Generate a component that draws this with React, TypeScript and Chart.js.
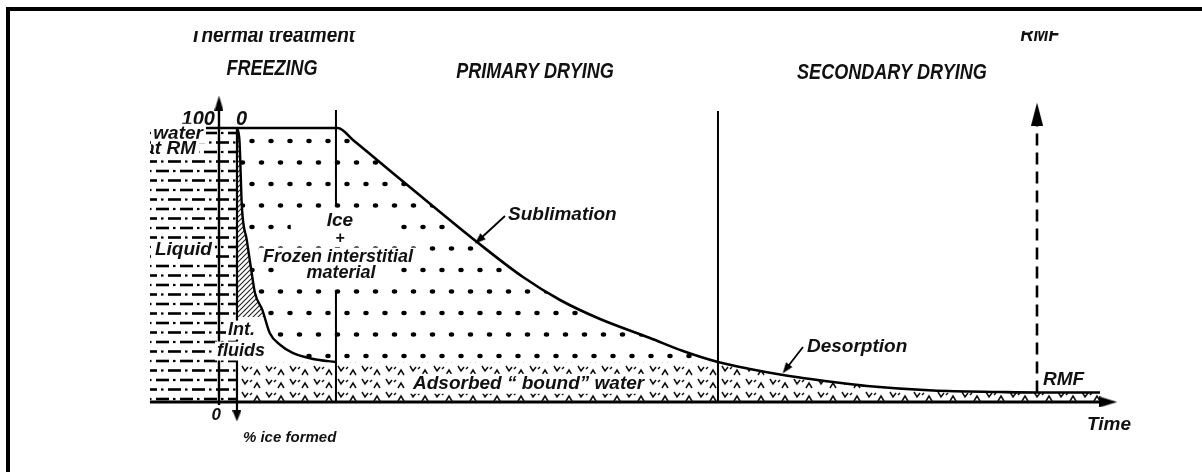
import React, { useEffect, useRef } from "react";
import { Chart, registerables } from "chart.js";

Chart.register(...registerables);

const W = 1202;
const H = 472;

// Scale ranges: time in arbitrary units (RMF reached at t = 100), water content in %
const X_MIN = -26.77;
const X_MAX = 120.17;
const Y_MIN = -25.55;
const Y_MAX = 146.72;

// Water content of the product (plateau, sublimation, then desorption)
const TIME_WATER = [-2.7, 14.55, 16.38, 22.13, 27.02, 31.54, 37.16, 41.69, 46.58, 52.69, 56.72, 61.0, 64.91, 68.95, 75.06, 79.22, 87.29, 95.48, 100, 107.7];
const WATER = [100, 100, 95.62, 81.39, 69.34, 58.39, 45.62, 37.23, 30.29, 23.36, 18.61, 14.6, 12.04, 9.85, 7.3, 5.84, 4.2, 3.65, 3.47, 3.47];

// Boundary between liquid / interstitial fluids and ice during freezing
const TIME_LIQUID = [2.2, 2.5, 2.8, 3.4, 4.0, 4.4, 5.3, 6.2, 7.5, 9.0, 11.5, 14.3];
const LIQUID = [100, 95.6, 71.2, 59.1, 47.1, 39.8, 33.6, 25.2, 20.8, 17.9, 15.7, 14.6];

// Levels
const BOUND_LEVEL = 14.6; // adsorbed "bound" water
const HATCH_LEVEL = 31; // lower end of hatched interstitial fluid band
const RM_TIME = [-8.44, 2.2]; // water at raw material (liquid) band
const RM_WATER = [99, 99];

// Axes and phase markers
const X_AXIS_T = [-8.44, 108.7];
const Y_AXIS_V = [-1.1, 109.1];
const ICE_AXIS_T = 2.2;
const ICE_AXIS_V = [100, -5.1];
const PHASE1_T = 14.3;
const PHASE1_V = [106.57, 71.17, null, 40.15, 0];
const PHASE2_T = 61.0;
const PHASE2_V = [106.2, 0];
const RMF_T = 100;
const RMF_V = [3.5, 105.1];
const SUBL_PTR_T = [34.96, 31.78];
const SUBL_PTR_V = [67.88, 59.12];
const DESO_PTR_T = [71.39, 69.31];
const DESO_PTR_V = [20.07, 12.04];

type Lbl = { t: string; x: number; y: number; s: number; a: "left" | "right" | "center"; sq?: number; bg?: boolean; pad?: number; clipTop?: boolean; clipLeft?: boolean };

const LABELS: Lbl[] = [
  { t: "Thermal treatment", x: -3.55, y: 131.4, s: 22, a: "left", sq: 0.86, clipTop: true },
  { t: "RMF", x: 100.37, y: 131.75, s: 22, a: "center", sq: 0.82, clipTop: true },
  { t: "FREEZING", x: 6.48, y: 119.34, s: 22, a: "center", sq: 0.82 },
  { t: "PRIMARY DRYING", x: 38.63, y: 118.25, s: 22, a: "center", sq: 0.82 },
  { t: "SECONDARY DRYING", x: 82.27, y: 117.88, s: 22, a: "center", sq: 0.82 },
  { t: "100", x: -0.49, y: 101.09, s: 20, a: "right" },
  { t: "0", x: 2.08, y: 101.09, s: 20, a: "left" },
  { t: "water", x: -1.96, y: 95.99, s: 19, a: "right", bg: true, pad: 3, clipLeft: true },
  { t: "at RM", x: -2.81, y: 90.51, s: 19, a: "right", bg: true, pad: 3, clipLeft: true },
  { t: "% Liquid", x: -0.86, y: 53.65, s: 19, a: "right", bg: true, pad: 3, clipLeft: true },
  { t: "Ice", x: 14.79, y: 64.23, s: 19, a: "center", bg: true, pad: 36 },
  { t: "+", x: 14.79, y: 58.03, s: 16, a: "center", bg: true, pad: 10 },
  { t: "Frozen interstitial", x: 14.55, y: 51.09, s: 18, a: "center", bg: true, pad: 4 },
  { t: "material", x: 14.91, y: 45.26, s: 18, a: "center", bg: true, pad: 20 },
  { t: "Sublimation", x: 35.33, y: 66.42, s: 19, a: "left" },
  { t: "Int.", x: 1.1, y: 24.45, s: 18, a: "left", bg: true, pad: 2 },
  { t: "fluids", x: -0.24, y: 16.79, s: 18, a: "left", bg: true, pad: 2 },
  { t: "Adsorbed \u201c bound\u201d water", x: 23.72, y: 4.74, s: 19, a: "left", bg: true, pad: 4 },
  { t: "Desorption", x: 71.88, y: 18.25, s: 19, a: "left" },
  { t: "RMF", x: 100.73, y: 6.2, s: 19, a: "left" },
  { t: "Time", x: 106.11, y: -10.22, s: 19, a: "left" },
  { t: "0", x: 0.24, y: -6.57, s: 17, a: "right" },
  { t: "% ice formed", x: 2.93, y: -14.6, s: 15, a: "left" },
];

const FONT = '"Liberation Sans", Arial, sans-serif';
const INK = "#111";

const pts = (xs: number[], ys: (number | null)[]) => xs.map((x, i) => ({ x, y: ys[i] }));
const vpts = (x: number, ys: (number | null)[]) => ys.map((y) => ({ x, y }));

function tile(w: number, h: number, draw: (g: CanvasRenderingContext2D) => void, bg = true) {
  const c = document.createElement("canvas");
  c.width = w;
  c.height = h;
  const g = c.getContext("2d")!;
  if (bg) {
    g.fillStyle = "#fff";
    g.fillRect(0, 0, w, h);
  }
  draw(g);
  return c;
}

function makePatterns(ctx: CanvasRenderingContext2D) {
  const dots = tile(38, 43, (g) => {
    g.fillStyle = "#000";
    const d = (x: number, y: number) => {
      g.beginPath();
      g.ellipse(x, y, 2.7, 2.2, 0, 0, Math.PI * 2);
      g.fill();
    };
    d(5, 12); d(24, 12); d(14.5, 33.5); d(33.5, 33.5);
  });
  const dash = tile(24, 19, (g) => {
    g.fillStyle = "#000";
    g.fillRect(0, 8.2, 13, 2.6);
    g.fillRect(17, 8.4, 2.5, 2.2);
    for (const y0 of [0, 19]) {
      g.fillRect(12, y0 - 1.3, 13, 2.6);
      g.fillRect(0, y0 - 1.3, 1, 2.6);
      g.fillRect(5, y0 - 1.1, 2.5, 2.2);
    }
  });
  const hatch = tile(5, 5, (g) => {
    g.strokeStyle = "#222";
    g.lineWidth = 1.1;
    g.beginPath();
    g.moveTo(-1, 6); g.lineTo(6, -1);
    g.moveTo(-1, 1); g.lineTo(1, -1);
    g.moveTo(4, 6); g.lineTo(6, 4);
    g.stroke();
  });
  const bound = tile(24, 13, (g) => {
    g.strokeStyle = "#111";
    g.lineWidth = 1.5;
    g.beginPath();
    g.moveTo(2, 2); g.lineTo(5, 7); g.lineTo(8, 3);
    g.moveTo(14, 11); g.lineTo(17, 6); g.lineTo(20, 11);
    g.moveTo(12, 3); g.lineTo(10, 5);
    g.stroke();
  });
  return {
    dots: ctx.createPattern(dots, "repeat")!,
    dash: ctx.createPattern(dash, "repeat")!,
    hatch: ctx.createPattern(hatch, "repeat")!,
    bound: ctx.createPattern(bound, "repeat")!,
  };
}

function arrowHead(w: number, h: number) {
  return tile(w, h, (g) => {
    g.fillStyle = "#000";
    g.beginPath();
    g.moveTo(w / 2, 0);
    g.lineTo(w, h);
    g.lineTo(0, h);
    g.closePath();
    g.fill();
  }, false);
}

const labelsPlugin = {
  id: "labels",
  afterDatasetsDraw(chart: any) {
    const ctx: CanvasRenderingContext2D = chart.ctx;
    const xs = chart.scales.x;
    const ys = chart.scales.y;
    const leftClip = xs.getPixelForValue(-8.44) + 1;
    for (const l of LABELS) {
      const px = xs.getPixelForValue(l.x);
      const py = ys.getPixelForValue(l.y);
      const sq = l.sq ?? 1;
      ctx.save();
      ctx.beginPath();
      ctx.rect(l.clipLeft ? leftClip : 0, l.clipTop ? 31 : 0, W, H);
      ctx.clip();
      ctx.font = `italic bold ${l.s}px ${FONT}`;
      const w = ctx.measureText(l.t).width * sq;
      const left = l.a === "left" ? px : l.a === "right" ? px - w : px - w / 2;
      if (l.bg) {
        const p = l.pad ?? 3;
        ctx.fillStyle = "#fff";
        ctx.fillRect(left - p, py - l.s * 0.8, w + 2 * p, l.s * 1.05);
      }
      ctx.translate(left, py);
      ctx.scale(sq, 1);
      ctx.fillStyle = INK;
      ctx.textAlign = "left";
      ctx.textBaseline = "alphabetic";
      ctx.fillText(l.t, 0, 0);
      ctx.restore();
    }
  },
};

const framePlugin = {
  id: "frame",
  afterDraw(chart: any) {
    const ctx: CanvasRenderingContext2D = chart.ctx;
    ctx.save();
    ctx.fillStyle = "#000";
    ctx.fillRect(6, 7, W - 6, 4);
    ctx.fillRect(6, 7, 4, H - 7);
    ctx.restore();
  },
};

export default function App() {
  const ref = useRef<HTMLCanvasElement>(null);
  useEffect(() => {
    const canvas = ref.current!;
    const ctx = canvas.getContext("2d")!;
    const P = makePatterns(ctx);
    const up = arrowHead(9, 15);
    const down = arrowHead(9, 11);
    const right = arrowHead(11, 18);
    const rmfUp = arrowHead(12, 23);
    const ptr = arrowHead(8, 11);
    const clear = "rgba(0,0,0,0)";
    const line = (data: any[], extra: any = {}) => ({
      data,
      borderColor: "#000",
      borderWidth: 2.2,
      pointRadius: 0,
      tension: 0,
      fill: false,
      order: 0,
      ...extra,
    });
    const withHead = (n: number, style: any, rot: number, r = 6) => ({
      pointRadius: Array.from({ length: n }, (_, i) => (i === n - 1 ? r : 0)),
      pointStyle: style,
      pointRotation: rot,
    });

    const chart = new Chart(canvas, {
      type: "line",
      data: {
        datasets: [
          line(pts(TIME_WATER, WATER), { borderWidth: 0, cubicInterpolationMode: "monotone", fill: "origin", backgroundColor: P.bound, order: 50 }),
          line(pts(TIME_WATER, WATER), {
            borderWidth: 2.6, cubicInterpolationMode: "monotone", backgroundColor: P.dots, order: 40,
            fill: { target: { value: BOUND_LEVEL }, above: P.dots, below: clear },
          }),
          line(pts(TIME_LIQUID, LIQUID), {
            borderWidth: 0, cubicInterpolationMode: "monotone", backgroundColor: "#fff", order: 30,
            fill: { target: { value: BOUND_LEVEL }, above: "#fff", below: clear },
          }),
          line(pts(TIME_LIQUID, LIQUID), {
            borderWidth: 2.4, cubicInterpolationMode: "monotone", backgroundColor: P.hatch, order: 20,
            fill: { target: { value: HATCH_LEVEL }, above: P.hatch, below: clear },
          }),
          line(pts(RM_TIME, RM_WATER), { borderWidth: 0, fill: "origin", backgroundColor: P.dash, order: 10 }),
          line(pts(X_AXIS_T, [0, 0]), { borderWidth: 3, ...withHead(2, right, 90) }),
          line(vpts(0, Y_AXIS_V), { borderWidth: 2.4, ...withHead(2, up, 0) }),
          line(vpts(ICE_AXIS_T, ICE_AXIS_V), { borderWidth: 2.2, ...withHead(2, down, 180) }),
          line(vpts(PHASE1_T, PHASE1_V), { borderWidth: 2, spanGaps: false }),
          line(vpts(PHASE2_T, PHASE2_V), { borderWidth: 2 }),
          line(vpts(RMF_T, RMF_V), { borderWidth: 2.6, borderDash: [12, 7], ...withHead(2, rmfUp, 0) }),
          line(pts(SUBL_PTR_T, SUBL_PTR_V), { borderWidth: 1.8, ...withHead(2, ptr, 228) }),
          line(pts(DESO_PTR_T, DESO_PTR_V), { borderWidth: 1.8, ...withHead(2, ptr, 217) }),
        ],
      },
      options: {
        responsive: false,
        animation: false,
        devicePixelRatio: 1,
        events: [],
        layout: { padding: 0, autoPadding: false },
        scales: {
          x: { type: "linear", min: X_MIN, max: X_MAX, bounds: "data", display: false },
          y: { type: "linear", min: Y_MIN, max: Y_MAX, bounds: "data", display: false },
        },
        plugins: {
          legend: { display: false },
          tooltip: { enabled: false },
          filler: { drawTime: "beforeDatasetsDraw", propagate: false },
        },
      } as any,
      plugins: [labelsPlugin, framePlugin],
    } as any);
    return () => chart.destroy();
  }, []);

  return (
    <div style={{ position: "absolute", left: 0, top: 0, width: W, height: H, background: "#fff" }}>
      <canvas ref={ref} width={W} height={H} style={{ display: "block", width: W, height: H }} />
    </div>
  );
}
